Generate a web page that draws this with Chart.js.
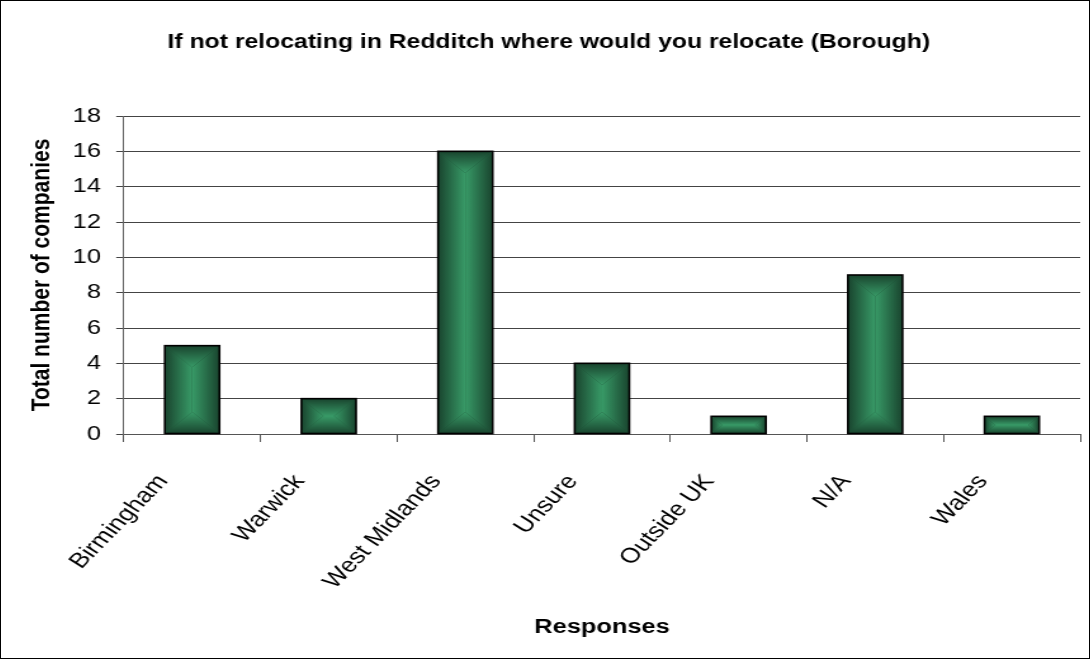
<!DOCTYPE html>
<html>
<head>
<meta charset="utf-8">
<script src="https://cdn.jsdelivr.net/npm/chart.js@4"></script>
<style>
  html, body { margin: 0; padding: 0; background: #fff; }
  #wrap { position: relative; width: 1088px; height: 657px; border: 1px solid #000; overflow: hidden; }
  /* la imagen original está estirada en horizontal */
  #grafico { transform: scaleX(1.2681); transform-origin: 0 0; }
</style>
</head>
<body>
<div id="wrap"><canvas id="grafico" width="858" height="657"></canvas></div>
<script>
// Datos
const categorias = ['Birmingham', 'Warwick', 'West Midlands', 'Unsure', 'Outside UK', 'N/A', 'Wales']
const respuestas = [5, 2, 16, 4, 1, 9, 1]
const marcasY = [0, 2, 4, 6, 8, 10, 12, 14, 16, 18]

const VERDE_OSCURO = 'rgb(25,68,46)'
const VERDE_CLARO = 'rgb(56,154,103)'
const FUENTE = 'Arial, "Liberation Sans", sans-serif'

// relleno tipo "desde el centro" para cada barra
const degradadoBarras = {
  id: 'degradadoBarras',
  afterDatasetsDraw(chart) {
    const ctx = chart.ctx
    chart.getDatasetMeta(0).data.forEach(bar => {
      const x0 = bar.x - bar.width / 2, x1 = bar.x + bar.width / 2
      const y0 = bar.y, y1 = bar.base
      const tri = (pts, gx0, gy0, gx1, gy1) => {
        const g = ctx.createLinearGradient(gx0, gy0, gx1, gy1)
        g.addColorStop(0, VERDE_OSCURO)
        g.addColorStop(1, VERDE_CLARO)
        ctx.fillStyle = g
        ctx.beginPath()
        ctx.moveTo(pts[0][0], pts[0][1])
        pts.slice(1).forEach(p => ctx.lineTo(p[0], p[1]))
        ctx.closePath()
        ctx.fill()
      }
      ctx.save()
      const d = Math.min(bar.width / 2, (y1 - y0) / 2)
      // arriba / abajo
      tri([[x0, y0], [x1, y0], [x1 - d, y0 + d], [x0 + d, y0 + d]], 0, y0, 0, y0 + d)
      tri([[x0, y1], [x1, y1], [x1 - d, y1 - d], [x0 + d, y1 - d]], 0, y1, 0, y1 - d)
      // izquierda / derecha
      tri([[x0, y0], [x0 + d, y0 + d], [x0 + d, y1 - d], [x0, y1]], x0, 0, x0 + d, 0)
      tri([[x1, y0], [x1 - d, y0 + d], [x1 - d, y1 - d], [x1, y1]], x1, 0, x1 - d, 0)
      ctx.strokeStyle = '#000'
      ctx.lineWidth = 1.6
      ctx.strokeRect(x0, y0, bar.width, y1 - y0)
      ctx.restore()
    })
  }
}

const ctxG = document.getElementById('grafico').getContext('2d')
new Chart(ctxG, {
  type: 'bar',
  data: {
    labels: categorias,
    datasets: [{
      data: respuestas,
      backgroundColor: VERDE_OSCURO,
      borderColor: '#000',
      borderWidth: 1,
      barPercentage: 0.8,
      categoryPercentage: 0.5
    }]
  },
  plugins: [degradadoBarras],
  options: {
    responsive: false,
    animation: false,
    layout: { autoPadding: false, padding: { top: 30, right: 7, bottom: 19, left: 13 } },
    plugins: {
      legend: { display: false },
      tooltip: { enabled: false },
      title: {
        display: true,
        text: 'If not relocating in Redditch where would you relocate (Borough)',
        color: '#000',
        font: { family: FUENTE, size: 19.5, weight: 'bold' },
        padding: { top: 0, bottom: 61.6 }
      }
    },
    scales: {
      x: {
        afterFit: eje => { eje.height = 205 },
        grid: { drawOnChartArea: false, drawTicks: true, tickLength: 8, color: '#555' },
        border: { color: '#555' },
        ticks: {
          color: '#000',
          maxRotation: 52,
          minRotation: 52,
          font: { family: FUENTE, size: 21 },
          padding: 28,
          labelOffset: -23
        },
        title: {
          display: true,
          text: 'Responses',
          color: '#000',
          font: { family: FUENTE, size: 20, weight: 'bold' },
          padding: { top: 0, bottom: 0 }
        }
      },
      y: {
        min: 0,
        max: 18,
        afterBuildTicks: axis => { axis.ticks = marcasY.map(v => ({ value: v })) },
        ticks: {
          color: '#000',
          font: { family: FUENTE, size: 20 },
          padding: 12
        },
        grid: { color: '#444', tickLength: 6 },
        border: { color: '#666' },
        title: {
          display: true,
          text: 'Total number of companies',
          color: '#000',
          font: { family: FUENTE, size: 21, weight: 'bold' },
          padding: { top: 6.4, bottom: 0 }
        }
      }
    }
  }
})
</script>
</body>
</html>
